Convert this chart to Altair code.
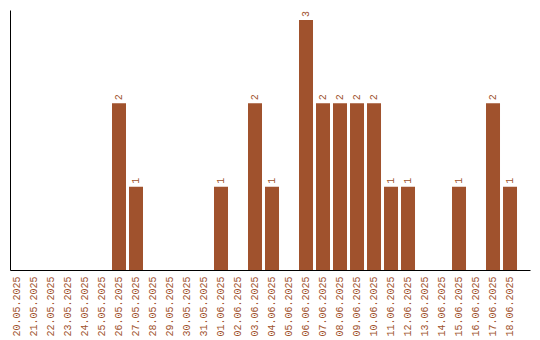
import altair as alt
import pandas as pd

dates = ["20.05.2025", "21.05.2025", "22.05.2025", "23.05.2025", "24.05.2025",
         "25.05.2025", "26.05.2025", "27.05.2025", "28.05.2025", "29.05.2025",
         "30.05.2025", "31.05.2025", "01.06.2025", "02.06.2025", "03.06.2025",
         "04.06.2025", "05.06.2025", "06.06.2025", "07.06.2025", "08.06.2025",
         "09.06.2025", "10.06.2025", "11.06.2025", "12.06.2025", "13.06.2025",
         "14.06.2025", "15.06.2025", "16.06.2025", "17.06.2025", "18.06.2025"]
counts = [0, 0, 0, 0, 0,
          0, 2, 1, 0, 0,
          0, 0, 1, 0, 2,
          1, 0, 3, 2, 2,
          2, 2, 1, 1, 0,
          0, 1, 0, 2, 1]

df = pd.DataFrame({"date": dates, "count": counts})
df["label"] = df["count"].apply(lambda v: str(v) if v > 0 else "")

COLOR = "#A0522D"
FONT = "Liberation Mono"

x = alt.X("date:N", sort=dates,
          scale=alt.Scale(paddingInner=0.1765, paddingOuter=0.382, align=0),
          axis=alt.Axis(title=None, labelAngle=-90, labelColor=COLOR, labelFont=FONT,
                        labelFontSize=10, ticks=False, labelPadding=6,
                        domainColor="black", domainWidth=1, grid=False))
y = alt.Y("count:Q", scale=alt.Scale(domain=[0, 3.12], nice=False),
          axis=alt.Axis(title=None, labels=False, ticks=False, grid=False,
                        domainColor="black", domainWidth=1))

bars = alt.Chart(df).mark_bar(color=COLOR).encode(x=x, y=y)
text = alt.Chart(df).mark_text(angle=270, align="left", baseline="middle", dx=3,
                               color=COLOR, font=FONT, fontSize=10).encode(
    x=alt.X("date:N", sort=dates), y="count:Q", text="label:N")

chart = (bars + text).properties(
    width=520, height=260,
    autosize=alt.AutoSizeParams(type="none"),
    padding={"left": 10, "top": 10, "right": 10, "bottom": 70},
).configure_view(stroke=None)

chart.save("out.html", embed_options={"renderer": "svg", "actions": False})
